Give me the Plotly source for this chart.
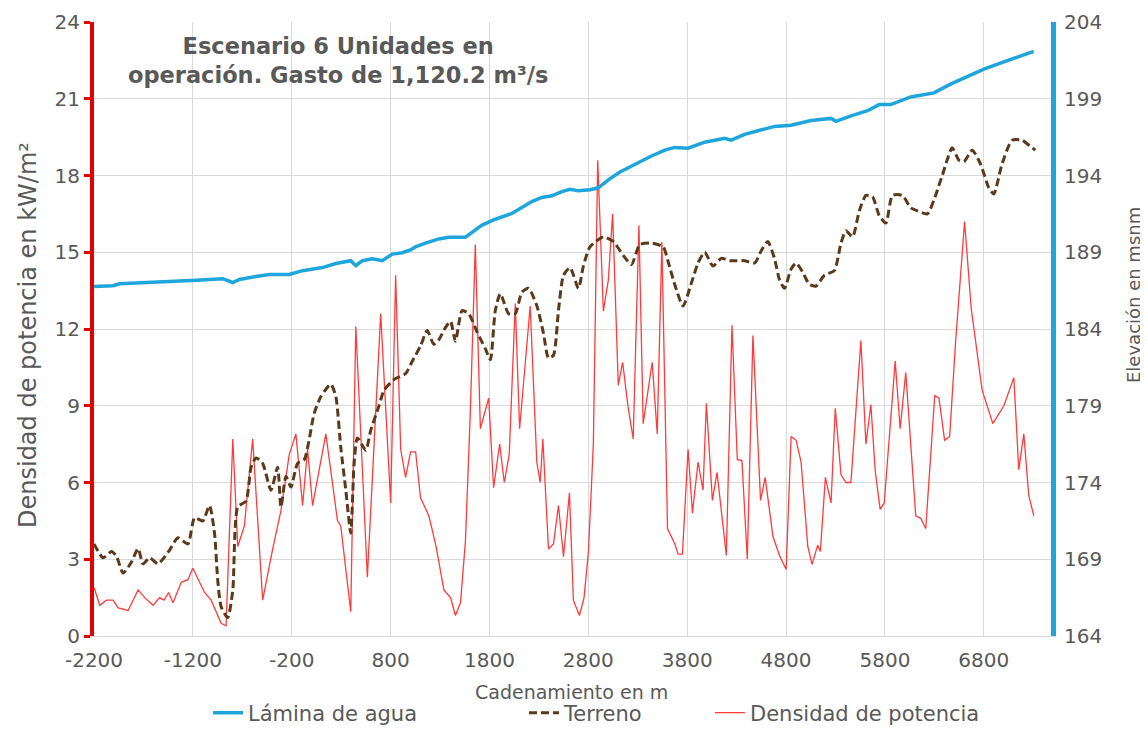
import plotly.graph_objects as go

# ---------------- data ----------------
x_ticks = [-2200, -1200, -200, 800, 1800, 2800, 3800, 4800, 5800, 6800]
x_tick_labels = [str(v) for v in x_ticks]
left_ticks = [0, 3, 6, 9, 12, 15, 18, 21, 24]
right_ticks = [164, 169, 174, 179, 184, 189, 194, 199, 204]

agua_x = [-2200, -2007, -1940, -1604, -1435, -1167, -898, -797, -729, -612, -561, -427, -225, -90,
          111, 246, 397, 448, 515, 616, 716, 817, 918, 1002, 1052, 1153, 1288, 1389, 1557, 1641,
          1725, 1859, 2027, 2128, 2229, 2330, 2431, 2532, 2616, 2700, 2817, 2901, 3002, 3120,
          3271, 3439, 3574, 3674, 3809, 3977, 4179, 4246, 4381, 4515, 4683, 4851, 5053, 5255,
          5305, 5457, 5625, 5742, 5859, 6061, 6296, 6464, 6666, 6801, 6968, 7137, 7305]
agua_elev = [186.77, 186.82, 186.95, 187.03, 187.10, 187.17, 187.28, 187.03, 187.23, 187.33, 187.42,
             187.55, 187.55, 187.80, 188.00, 188.27, 188.45, 188.12, 188.45, 188.57, 188.45, 188.88,
             188.97, 189.15, 189.35, 189.60, 189.87, 189.98, 189.98, 190.38, 190.77, 191.15, 191.53,
             191.92, 192.30, 192.57, 192.68, 192.95, 193.10, 193.00, 193.07, 193.20, 193.72, 194.23,
             194.75, 195.27, 195.65, 195.83, 195.78, 196.17, 196.42, 196.30, 196.68, 196.93, 197.20,
             197.27, 197.58, 197.72, 197.53, 197.88, 198.22, 198.62, 198.62, 199.12, 199.38, 199.95,
             200.53, 200.93, 201.32, 201.70, 202.08]

terreno_x = [-2200, -2108, -2023, -1973, -1906, -1822, -1754, -1704, -1637, -1553, -1435, -1351,
             -1250, -1183, -1099, -1032, -981, -948, -914, -847, -796, -746, -662, -611, -561, -494,
             -410, -343, -309, -258, -208, -141, -73, 27, 95, 195, 246, 296, 347, 397, 431, 465,
             549, 599, 683, 733, 834, 952, 1019, 1103, 1170, 1237, 1288, 1355, 1406, 1456, 1523,
             1590, 1675, 1759, 1809, 1859, 1910, 1994, 2061, 2128, 2196, 2280, 2347, 2397, 2448,
             2498, 2549, 2616, 2700, 2750, 2817, 2952, 3053, 3153, 3237, 3321, 3439, 3557, 3607,
             3674, 3758, 3843, 3910, 3977, 4061, 4145, 4229, 4280, 4381, 4482, 4549, 4616, 4683,
             4734, 4784, 4851, 4902, 4969, 5036, 5104, 5188, 5288, 5356, 5406, 5473, 5541, 5608,
             5675, 5742, 5810, 5876, 5977, 6061, 6128, 6229, 6296, 6380, 6481, 6548, 6599, 6683,
             6767, 6851, 6901, 6985, 7086, 7187, 7271, 7322]
terreno_elev = [170.0, 169.1, 169.5, 169.2, 168.1, 168.8, 169.7, 168.7, 169.1, 168.7, 169.6, 170.4,
                170.0, 171.7, 171.5, 172.5, 170.7, 167.6, 165.9, 165.2, 167.0, 172.4, 172.8, 175.0,
                175.6, 175.25, 173.5, 175.0, 172.4, 174.4, 173.7, 175.25, 175.5, 178.5, 179.6, 180.4,
                179.6, 176.3, 173.5, 170.7, 175.25, 176.9, 176.1, 177.4, 179.0, 180.0, 180.7, 181.1,
                181.9, 182.9, 183.9, 183.0, 183.3, 184.1, 184.5, 183.2, 185.2, 185.0, 183.8, 182.7,
                182.0, 185.2, 186.3, 185.0, 185.0, 186.4, 186.65, 185.5, 183.7, 182.1, 182.3, 185.2,
                187.5, 188.0, 186.65, 188.1, 189.35, 190.0, 189.7, 188.8, 188.2, 189.5, 189.6, 189.35,
                188.4, 186.9, 185.5, 187.0, 188.3, 189.0, 188.1, 188.6, 188.45, 188.45, 188.45, 188.3,
                189.1, 189.7, 188.6, 187.2, 186.65, 187.9, 188.3, 187.7, 186.9, 186.8, 187.5, 187.8,
                189.6, 190.4, 190.0, 191.7, 192.7, 192.6, 191.4, 190.9, 192.7, 192.7, 191.9, 191.7,
                191.5, 192.4, 194.0, 195.8, 195.0, 194.9, 195.65, 194.75, 193.2, 192.8, 194.75, 196.3,
                196.3, 195.9, 195.65]

densidad_x = [-2200, -2141, -2074, -2007, -1956, -1855, -1754, -1687, -1603, -1536, -1492, -1445,
              -1401, -1317, -1250, -1200, -1082, -1015, -914, -864, -796, -746, -679, -595, -494,
              -393, -309, -225, -158, -90, -40, 11, 145, 263, 296, 397, 448, 565, 700, 801, 851,
              902, 952, 1002, 1053, 1103, 1187, 1260, 1339, 1406, 1456, 1507, 1557, 1607, 1657,
              1708, 1792, 1842, 1903, 1950, 2000, 2061, 2105, 2212, 2279, 2313, 2340, 2397, 2448,
              2498, 2549, 2609, 2649, 2710, 2757, 2801, 2851, 2895, 2952, 3002, 3046, 3103, 3147,
              3204, 3254, 3312, 3355, 3446, 3497, 3544, 3601, 3675, 3708, 3752, 3809, 3853, 3910,
              3960, 3994, 4055, 4102, 4196, 4253, 4307, 4354, 4408, 4465, 4542, 4589, 4667, 4734,
              4801, 4851, 4902, 4952, 5020, 5063, 5120, 5147, 5198, 5255, 5298, 5356, 5406, 5456,
              5557, 5608, 5658, 5702, 5752, 5793, 5904, 5954, 6011, 6062, 6112, 6162, 6213, 6304,
              6347, 6404, 6455, 6515, 6606, 6673, 6784, 6892, 7003, 7104, 7154, 7205, 7255, 7306]
densidad_kw = [1.9, 1.2, 1.4, 1.4, 1.1, 1.0, 1.8, 1.5, 1.2, 1.5, 1.4, 1.7, 1.3, 2.1, 2.2, 2.65,
               1.7, 1.4, 0.5, 0.4, 7.7, 3.5, 4.3, 7.7, 1.4, 3.4, 4.9, 7.1, 7.9, 5.1, 7.3, 5.1, 7.9,
               4.5, 4.3, 0.95, 12.1, 2.3, 12.6, 5.2, 14.1, 7.3, 6.2, 7.2, 7.2, 5.4, 4.7, 3.5, 1.8,
               1.5, 0.8, 1.3, 3.7, 8.8, 15.3, 8.1, 9.3, 5.8, 7.5, 6.0, 7.1, 13.0, 8.1, 12.9, 6.8,
               6.0, 7.7, 3.4, 3.6, 5.1, 3.1, 5.6, 1.4, 0.8, 1.5, 3.3, 7.5, 18.6, 12.7, 13.9, 16.5,
               9.8, 10.7, 8.9, 7.7, 16.05, 8.3, 10.7, 7.9, 15.4, 4.2, 3.6, 3.2, 3.2, 7.3, 4.8, 6.8,
               5.7, 9.1, 5.3, 6.4, 3.15, 12.15, 6.9, 6.85, 3.0, 11.75, 5.3, 6.2, 3.9, 3.15, 2.6, 7.8,
               7.65, 6.8, 3.5, 2.8, 3.55, 3.3, 6.2, 5.2, 8.9, 6.3, 6.0, 6.0, 11.55, 7.5, 9.05, 6.45,
               4.95, 5.2, 10.75, 8.1, 10.3, 7.45, 4.7, 4.6, 4.2, 9.4, 9.3, 7.65, 7.8, 11.5, 16.2,
               12.8, 9.6, 8.3, 9.0, 10.1, 6.5, 7.9, 5.5, 4.7]

# ---------------- styles ----------------
GRAY = "#595959"
GRID = "#d9d9d9"
RED_AXIS = "#e50000"
BLUE = "#1ea6dc"
BROWN = "#5b3a1c"
RED_LINE = "#ff3b3b"
FONT = "DejaVu Sans"

# The page has an 8px body margin, so the figure is sized to the remaining window
# and all page positions below are converted with that offset.
OFF = 8
W, H = 1148 - OFF, 729 - OFF
L, R, T, B = 86, 97, 14, 93
PW, PH = W - L - R, H - T - B


def px_x(page_x):
    return (page_x - OFF - L) / PW


def px_y(page_y):
    return (H - B - (page_y - OFF)) / PH


fig = go.Figure()
fig.add_trace(go.Scatter(x=agua_x, y=agua_elev, yaxis="y2", mode="lines",
                         name="Lámina de agua", legend="legend",
                         line=dict(color=BLUE, width=3.5)))
fig.add_trace(go.Scatter(x=terreno_x, y=terreno_elev, yaxis="y2", mode="lines",
                         name="Terreno", legend="legend2",
                         line=dict(color=BROWN, width=3, dash="8px,4px", shape="spline",
                                   smoothing=0.6)))
fig.add_trace(go.Scatter(x=densidad_x, y=densidad_kw, yaxis="y", mode="lines",
                         name="Densidad de potencia", legend="legend3",
                         line=dict(color=RED_LINE, width=1.3)))

leg_common = dict(orientation="h", xanchor="left", yanchor="middle", y=px_y(713),
                  font=dict(family=FONT, size=21, color=GRAY), bgcolor="rgba(0,0,0,0)",
                  borderwidth=0)

fig.update_layout(
    width=W, height=H,
    margin=dict(l=L, r=R, t=T, b=B, autoexpand=False),
    paper_bgcolor="white", plot_bgcolor="white",
    font=dict(family=FONT, color=GRAY),
    showlegend=True,
    legend=dict(x=px_x(208), **leg_common),
    legend2=dict(x=px_x(524), **leg_common),
    legend3=dict(x=px_x(710), **leg_common),
    xaxis=dict(range=[-2200, 7480], tickmode="array", tickvals=x_ticks, ticktext=x_tick_labels,
               showgrid=True, gridcolor=GRID, gridwidth=1, zeroline=False, automargin=False,
               showline=True, linecolor=GRID, linewidth=1, ticks="",
               tickfont=dict(family=FONT, size=20, color=GRAY), ticklabelstandoff=6),
    yaxis=dict(range=[0, 24], tickmode="array", tickvals=left_ticks, automargin=False,
               showgrid=True, gridcolor=GRID, gridwidth=1, zeroline=False,
               showline=True, linecolor=RED_AXIS, linewidth=4,
               ticks="outside", ticklen=6, tickwidth=3, tickcolor=RED_AXIS,
               tickfont=dict(family=FONT, size=20, color=GRAY)),
    yaxis2=dict(range=[164, 204], tickmode="array", tickvals=right_ticks, overlaying="y",
                side="right", showgrid=False, zeroline=False, automargin=False,
                showline=True, linecolor=BLUE, linewidth=5, ticks="",
                tickfont=dict(family=FONT, size=20, color=GRAY), ticklabelstandoff=4),
)

# chart title
fig.add_annotation(
    xref="paper", yref="paper", x=px_x(338), y=px_y(60), xanchor="center", yanchor="middle",
    text="<b>Escenario 6 Unidades en<br>operación. Gasto de 1,120.2 m³/s</b>",
    showarrow=False, align="center",
    font=dict(family=FONT, size=22.5, color=GRAY),
)
# axis titles
fig.add_annotation(
    xref="paper", yref="paper", x=px_x(28), y=px_y(335), xanchor="center", yanchor="middle",
    text="Densidad de potencia en kW/m²", textangle=-90, showarrow=False,
    font=dict(family=FONT, size=24, color=GRAY),
)
fig.add_annotation(
    xref="paper", yref="paper", x=px_x(1133), y=px_y(295), xanchor="center", yanchor="middle",
    text="Elevación en msnm", textangle=-90, showarrow=False,
    font=dict(family=FONT, size=18, color=GRAY),
)
fig.add_annotation(
    xref="paper", yref="paper", x=px_x(571), y=px_y(692), xanchor="center", yanchor="middle",
    text="Cadenamiento en m", showarrow=False,
    font=dict(family=FONT, size=19, color=GRAY),
)

fig.write_html("out.html")
